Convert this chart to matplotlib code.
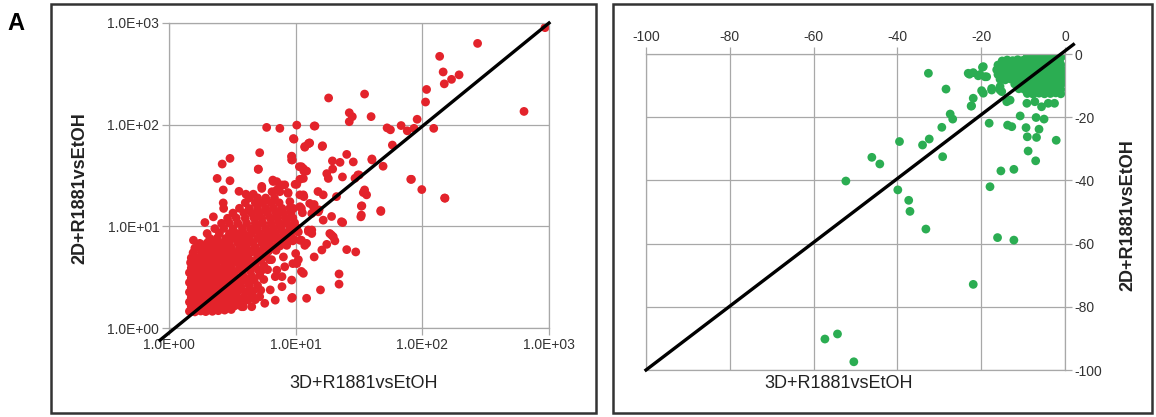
import numpy as np
import matplotlib.pyplot as plt
from matplotlib.patches import Rectangle
from matplotlib.ticker import NullLocator

plt.rcParams['font.family'] = ['Liberation Sans', 'DejaVu Sans']
plt.rcParams['axes.unicode_minus'] = False

W, H = 1156, 417

# ---------------------------------------------------------
# Panel A left: fold change (log-log), 3D vs 2D, R1881 vs EtOH
# ---------------------------------------------------------
left_sparse = [
    (930, 900), (273, 630), (137, 470), (146, 330), (149, 252), (170, 279), (195, 309),
    (108, 222), (106, 167), (635, 135), (18.2, 183), (35, 200), (26.5, 131), (28, 120),
    (26.5, 107), (39.4, 120), (91, 113), (52.7, 93), (56, 89), (68, 98), (76, 87), (86, 92),
    (123, 92), (14, 97), (58, 63), (40, 46), (49, 39), (81, 29), (99, 23), (150, 19),
    (25.3, 51), (28.5, 43), (19.5, 44), (22.4, 42.6), (16.3, 62), (12.8, 66), (11.8, 60),
    (31.7, 32), (35, 22.8), (36.3, 20.4), (19.6, 36.6), (17.6, 33), (18.1, 29.6), (23.4, 30.6),
    (29.4, 29.7), (11.5, 37), (12.2, 35), (11.5, 29.6), (15, 22), (16.5, 20.4), (11.6, 19.6),
    (21, 19.6), (33.3, 15.9), (47, 14.3), (13.8, 15.6), (10.8, 15.6),
    (5.9, 94), (7.5, 92), (10.2, 99), (14.2, 97), (9.7, 72), (12.6, 65), (5.2, 53), (9.3, 49),
    (9.3, 45), (5.07, 36.6), (11.1, 38.6), (11.8, 35), (10.8, 29), (9.9, 25.9), (7.1, 27.5),
    (7.8, 25.5), (6.6, 28.5), (5.4, 23.6), (6.5, 21.9), (7.5, 21.9), (8.7, 21.5), (10.8, 20.4),
    (9.0, 17.5), (9.6, 15), (11.1, 15), (12.9, 16.8), (13.4, 13.4), (15.1, 13.9), (16.5, 11.5),
    (12.6, 9.2), (13.4, 8.5), (10.8, 7.3), (11.8, 6.5), (19.2, 12.5), (23, 11.1), (18.6, 8.5),
    (19.8, 7.9), (33, 15.8), (33, 12.9), (40, 45), (31, 32), (47, 14), (34.2, 21.5),
    (82, 29), (151, 18.9), (32.7, 12.4), (23.5, 10.9),
    (2.4, 29.6), (2.63, 41), (3.03, 46.6), (3.03, 28.1), (2.68, 22.8), (3.57, 22.1),
    (4.05, 20.7), (4.63, 20.7), (5.07, 36.3), (5.4, 24.7), (6.65, 27.6), (7.1, 22.8),
    (8.2, 25.6), (8.7, 21.1), (9.3, 48.4), (9.4, 45), (10.7, 38.6), (11.6, 35), (10.2, 25.9),
    (11.5, 20.4), (14, 16.4), (15.3, 14.5), (11.3, 13.6), (9.6, 73), (11.8, 61), (12.9, 66),
    (16.2, 61),
]

left_below = [
    (5.7, 1.75), (5.2, 2.03), (6.3, 2.37), (7.1, 3.7), (7.8, 3.2), (8.0, 5.0), (7.4, 6.8),
    (9.6, 7.5), (10, 5.4), (10.2, 4.3), (9.5, 4.3), (11.1, 7.3), (12.2, 6.8), (12.6, 8.9),
    (13.4, 9.2), (11.5, 3.45), (9.4, 2.0), (12.2, 1.96), (15.7, 2.37), (22, 3.4), (22, 2.7),
    (25.3, 5.9), (29.8, 5.6), (14, 5.0), (16.1, 5.85), (17.6, 6.65), (19.2, 8.2), (20.4, 7.2),
    (3.86, 1.62), (6.9, 3.2), (7.8, 2.55), (9.3, 2.96), (9.3, 1.96), (6.9, 1.88), (4.5, 1.62),
    (3.75, 1.62), (10.5, 4.7), (11.1, 3.6), (8.2, 4.0), (6.45, 4.7), (5.4, 3.7),
]

left_dense = [
    (1.45, 1.46), (1.6, 1.44), (1.78, 1.47), (1.95, 1.45), (2.2, 1.46), (2.45, 1.48), (2.75, 1.5), (3.1, 1.52),
    (1.5, 1.62), (1.68, 1.6), (1.85, 1.63), (2.05, 1.6), (2.3, 1.62), (2.6, 1.64), (2.95, 1.66), (3.3, 1.65), (3.8, 1.7),
    (1.45, 1.8), (1.62, 1.82), (1.8, 1.78), (2.0, 1.81), (2.25, 1.8), (2.5, 1.83), (2.8, 1.79), (3.2, 1.82),
    (3.6, 1.85), (4.2, 1.88), (4.8, 1.9),
    (1.5, 2.0), (1.7, 2.02), (1.9, 1.98), (2.1, 2.03), (2.35, 2.0), (2.65, 2.04), (3.0, 2.0), (3.4, 2.05),
    (3.9, 2.02), (4.5, 2.1),
    (1.45, 2.25), (1.6, 2.22), (1.8, 2.27), (2.0, 2.24), (2.2, 2.26), (2.45, 2.22), (2.75, 2.28), (3.1, 2.25),
    (3.5, 2.3), (4.0, 2.27), (4.6, 2.3), (5.3, 2.35),
    (1.5, 2.5), (1.68, 2.53), (1.88, 2.48), (2.1, 2.52), (2.35, 2.5), (2.6, 2.55), (2.9, 2.5), (3.3, 2.52),
    (3.7, 2.56), (4.3, 2.6), (5.0, 2.62),
    (1.45, 2.8), (1.6, 2.83), (1.78, 2.78), (1.98, 2.82), (2.2, 2.8), (2.5, 2.85), (2.8, 2.8), (3.15, 2.84),
    (3.6, 2.88), (4.1, 2.9), (4.7, 2.95), (5.6, 3.0),
    (1.5, 3.1), (1.7, 3.14), (1.9, 3.08), (2.1, 3.12), (2.4, 3.1), (2.7, 3.15), (3.0, 3.12), (3.4, 3.16),
    (3.9, 3.2), (4.5, 3.22), (5.2, 3.3),
    (1.45, 3.5), (1.62, 3.53), (1.82, 3.48), (2.05, 3.52), (2.3, 3.5), (2.6, 3.55), (2.95, 3.5), (3.3, 3.56),
    (3.8, 3.6), (4.4, 3.62), (5.1, 3.7), (6.0, 3.75),
    (1.5, 3.9), (1.7, 3.94), (1.9, 3.88), (2.15, 3.92), (2.45, 3.9), (2.75, 3.95), (3.1, 3.92), (3.6, 3.96),
    (4.1, 4.0), (4.8, 4.05), (5.6, 4.1),
    (1.48, 4.4), (1.65, 4.44), (1.85, 4.38), (2.1, 4.42), (2.35, 4.4), (2.7, 4.45), (3.0, 4.42), (3.4, 4.46),
    (3.9, 4.5), (4.5, 4.55), (5.3, 4.6), (6.2, 4.7),
    (1.5, 4.9), (1.72, 4.95), (1.95, 4.88), (2.2, 4.92), (2.5, 4.9), (2.85, 4.96), (3.2, 4.92), (3.7, 4.98),
    (4.2, 5.0), (5.0, 5.05), (5.8, 5.1),
    (1.55, 5.5), (1.8, 5.55), (2.05, 5.48), (2.3, 5.52), (2.6, 5.5), (3.0, 5.56), (3.4, 5.52), (3.9, 5.58),
    (4.5, 5.6), (5.2, 5.65), (6.1, 5.7), (7.0, 5.8),
    (1.6, 6.1), (1.85, 6.15), (2.1, 6.08), (2.4, 6.12), (2.75, 6.1), (3.1, 6.16), (3.6, 6.12), (4.1, 6.18),
    (4.8, 6.2), (5.6, 6.25), (6.5, 6.3), (7.5, 6.4), (8.5, 6.5),
    (1.75, 6.8), (2.0, 6.85), (2.3, 6.78), (2.6, 6.82), (3.0, 6.8), (3.5, 6.86), (4.0, 6.82), (4.6, 6.88),
    (5.4, 6.9), (6.2, 6.95), (7.2, 7.0), (8.3, 7.1), (9.5, 7.2),
    (1.56, 7.3), (2.1, 7.6), (2.4, 7.65), (2.8, 7.58), (3.2, 7.62), (3.7, 7.6), (4.3, 7.66), (5.0, 7.62),
    (5.7, 7.68), (6.6, 7.7), (7.6, 7.75), (8.8, 7.8),
    (2.0, 8.5), (2.5, 8.55), (3.0, 8.48), (3.4, 8.52), (3.9, 8.5), (4.5, 8.56), (5.2, 8.52), (6.0, 8.58),
    (6.9, 8.6), (8.0, 8.65), (9.2, 8.7), (10.5, 8.8),
    (2.3, 9.5), (2.7, 9.55), (3.2, 9.48), (3.8, 9.52), (4.4, 9.5), (5.0, 9.56), (5.8, 9.52), (6.7, 9.58),
    (7.7, 9.6), (9.0, 9.65), (10.2, 9.7),
    (1.92, 10.9), (2.6, 10.7), (3.0, 10.75), (3.5, 10.68), (4.1, 10.72), (4.8, 10.7), (5.5, 10.76),
    (6.4, 10.72), (7.4, 10.78), (8.5, 10.8), (9.8, 10.85),
    (2.24, 12.4), (2.9, 12.0), (3.4, 12.05), (4.0, 11.98), (4.7, 12.02), (5.4, 12.0), (6.3, 12.06),
    (7.2, 12.02), (8.3, 12.08), (9.5, 12.1),
    (3.2, 13.5), (3.9, 13.55), (4.5, 13.48), (5.2, 13.52), (6.0, 13.5), (7.0, 13.56), (8.0, 13.52), (9.2, 13.6),
    (2.7, 15.0), (3.6, 15.05), (4.3, 14.98), (5.0, 15.02), (5.8, 15.0), (6.7, 15.06), (7.8, 15.02), (9.0, 15.1),
    (2.68, 17.0), (4.0, 17.05), (4.8, 16.98), (5.5, 17.02), (6.4, 17.0), (7.4, 17.06),
    (4.3, 19.0), (5.0, 19.05), (5.8, 18.98), (6.8, 19.02),
]

# reference diagonal (as drawn in the source figure)
left_diag_x = [0.85, 1000]
left_diag_y = [0.76, 1000]

# ---------------------------------------------------------
# Panel A right: negative fold change, linear axes
# ---------------------------------------------------------
right_sparse = [
    (-57.3, -90.2), (-54.3, -88.6), (-50.4, -97.4), (-21.9, -72.9), (-16.1, -58.1), (-12.2, -58.9),
    (-33.2, -55.4), (-37.0, -49.8), (-37.3, -46.3), (-39.9, -43.0), (-52.3, -40.2), (-46.1, -32.7),
    (-44.2, -34.8), (-39.5, -27.7), (-34.0, -28.8), (-32.4, -26.9), (-29.2, -32.5), (-29.4, -23.2),
    (-27.4, -19.0), (-26.8, -20.6), (-32.6, -6.1), (-28.4, -11.1), (-22.4, -16.5), (-21.9, -14.0),
    (-18.1, -21.9), (-17.9, -42.0), (-15.3, -37.0), (-12.2, -36.5), (-8.8, -30.7), (-7.0, -33.8),
    (-2.1, -27.3), (-10.7, -19.6), (-13.7, -22.5), (-12.7, -23.0), (-9.3, -23.3), (-9.0, -26.2),
    (-6.8, -26.4), (-6.2, -23.8), (-6.9, -20.1), (-5.0, -20.6), (-9.1, -15.6), (-7.2, -15.1),
    (-5.6, -16.7), (-2.5, -15.6), (-4.0, -15.6), (-13.9, -15.1), (-13.1, -14.6), (-19.9, -11.6),
    (-19.5, -12.4), (-17.5, -11.4), (-15.5, -11.4), (-23.1, -6.1), (-21.9, -5.9), (-20.3, -6.5),
    (-19.1, -7.2), (-19.7, -4.2), (-14.7, -4.8), (-22.8, -6.4), (-17.5, -10.9), (-15.5, -10.3),
    (-15.1, -11.9), (-20.7, -6.9), (-18.7, -7.2), (-19.5, -4.0), (-22.3, -16.4),
]

right_dense = [
    (-9, -0.8), (-7.8, -0.6), (-6.5, -0.9), (-5.2, -0.7), (-4, -0.8), (-2.8, -0.6), (-1.6, -0.9), (-0.7, -0.7),
    (-15, -2.2), (-13.8, -1.9), (-12.5, -2.1), (-11.3, -1.8), (-10, -2.0), (-8.8, -2.2), (-7.5, -1.9),
    (-6.3, -2.1), (-5, -2.0), (-3.8, -2.2), (-2.5, -1.9), (-1.3, -2.1),
    (-16, -3.5), (-14.8, -3.7), (-13.5, -3.4), (-12.3, -3.6), (-11, -3.5), (-9.8, -3.3), (-8.5, -3.6),
    (-7.2, -3.5), (-6, -3.7), (-4.7, -3.4), (-3.5, -3.6), (-2.2, -3.5), (-1, -3.4),
    (-16.3, -5.0), (-15.2, -5.2), (-14, -4.9), (-12.8, -5.1), (-11.5, -5.0), (-10.3, -4.8), (-9, -5.1),
    (-7.8, -5.0), (-6.5, -5.2), (-5.3, -4.9), (-4, -5.1), (-2.8, -5.0), (-1.5, -4.8), (-0.6, -5.1),
    (-16, -6.5), (-14.7, -6.7), (-13.5, -6.4), (-12.2, -6.6), (-11, -6.5), (-9.7, -6.3), (-8.5, -6.6),
    (-7.2, -6.5), (-6, -6.7), (-4.7, -6.4), (-3.5, -6.6), (-2.2, -6.5), (-1, -6.4),
    (-15.5, -8.0), (-14.3, -8.2), (-13, -7.9), (-11.8, -8.1), (-10.5, -8.0), (-9.3, -7.8), (-8, -8.1),
    (-6.8, -8.0), (-5.5, -8.2), (-4.3, -7.9), (-3, -8.1), (-1.8, -8.0), (-0.7, -7.8),
    (-12, -9.5), (-10.8, -9.7), (-9.5, -9.4), (-8.3, -9.6), (-7, -9.5), (-5.8, -9.3), (-4.5, -9.6),
    (-3.3, -9.5), (-2, -9.7), (-0.8, -9.4),
    (-11, -11.0), (-9.7, -11.2), (-8.5, -10.9), (-7.2, -11.1), (-6, -11.0), (-4.7, -10.8), (-3.5, -11.1),
    (-2.2, -11.0), (-1, -11.2),
    (-9, -12.5), (-7.6, -12.7), (-6.2, -12.4), (-4.9, -12.6), (-3.5, -12.5), (-2.2, -12.3), (-1, -12.6),
]

right_diag_x = [-100, 2]
right_diag_y = [-100, 3]

log_ticks = [1, 10, 100, 1000]
log_labels = ['1.0E+00', '1.0E+01', '1.0E+02', '1.0E+03']
lin_ticks = [-100, -80, -60, -40, -20, 0]
lin_labels = ['-100', '-80', '-60', '-40', '-20', '0']

x_label = '3D+R1881vsEtOH'
y_label = '2D+R1881vsEtOH'

red = '#e3232b'
green = '#2bad52'
grid_c = '#a8a8a8'
tick_c = '#333333'


def fx(px):
    return px / W


def fy(py):
    return 1 - py / H


fig = plt.figure(figsize=(W / 100, H / 100), dpi=100)

# ---------------- left panel ----------------
ax1 = fig.add_axes([fx(169), fy(328), (549 - 169) / W, (328 - 23) / H])
lx, ly = zip(*(left_dense + left_below + left_sparse))
ax1.scatter(lx, ly, s=40, color=red, edgecolors='none', zorder=2)
ax1.plot(left_diag_x, left_diag_y, color='black', lw=2.4, clip_on=False, zorder=3)
ax1.set_xscale('log')
ax1.set_yscale('log')
ax1.set_xlim(1, 1000)
ax1.set_ylim(1, 1000)
ax1.set_xticks(log_ticks, log_labels)
ax1.set_yticks(log_ticks, log_labels)
ax1.xaxis.set_minor_locator(NullLocator())
ax1.yaxis.set_minor_locator(NullLocator())

# ---------------- right panel ----------------
ax2 = fig.add_axes([fx(646), fy(370), (1065 - 646) / W, (370 - 54) / H])
rx, ry = zip(*(right_dense + right_sparse))
ax2.scatter(rx, ry, s=40, color=green, edgecolors='none', zorder=2)
ax2.plot(right_diag_x, right_diag_y, color='black', lw=2.4, clip_on=False, zorder=3)
ax2.set_xlim(-100, 0)
ax2.set_ylim(-100, 0)
ax2.set_xticks(lin_ticks, lin_labels)
ax2.set_yticks(lin_ticks, lin_labels)
ax2.xaxis.tick_top()
ax2.yaxis.tick_right()

for ax in (ax1, ax2):
    ax.grid(True, color=grid_c, lw=0.9, zorder=0)
    ax.set_axisbelow(True)
    for sp in ax.spines.values():
        sp.set_color(grid_c)
        sp.set_linewidth(0.9)
    ax.tick_params(length=5, width=0.9, color=grid_c, labelsize=10, labelcolor=tick_c, pad=2)

# labels
fig.text(fx(364), fy(383), x_label, fontsize=13, ha='center', va='center', color='#222222')
fig.text(fx(80), fy(188), y_label, fontsize=13, fontweight='bold', rotation=90,
         ha='center', va='center', color='#222222')
fig.text(fx(839), fy(383), x_label, fontsize=13, ha='center', va='center', color='#222222')
fig.text(fx(1128), fy(215), y_label, fontsize=13, fontweight='bold', rotation=90,
         ha='center', va='center', color='#222222')
fig.text(fx(16), fy(23), 'A', fontsize=17, fontweight='bold', ha='center', va='center')

# panel frames
for x0, x1 in ((51, 596), (613, 1152)):
    fig.add_artist(Rectangle((fx(x0), fy(413)), (x1 - x0) / W, (413 - 4) / H,
                             transform=fig.transFigure, fill=False, lw=1.8, ec='#333333'))

fig.savefig('out.png', dpi=100)
